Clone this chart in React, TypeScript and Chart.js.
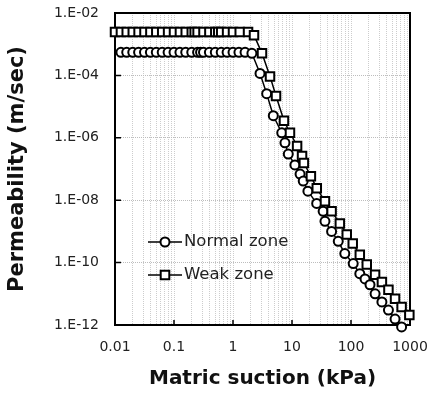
import React, { useEffect, useRef } from "react";
import { Chart, registerables } from "chart.js";

Chart.register(...registerables);

// ---- data ----
const normalX = [
  0.0126, 0.0158, 0.02, 0.0251, 0.0316, 0.0398, 0.0501, 0.0631, 0.0794, 0.1,
  0.126, 0.158, 0.2, 0.251, 0.282, 0.316, 0.398, 0.501, 0.631, 0.794,
  1.0, 1.26, 1.6,
  2.09, 2.87, 3.72, 4.82, 6.7, 7.6, 8.65, 11.2, 13.7, 15.5,
  18.6, 26.2, 33.7, 36.2, 46.9, 60.8, 78.5, 109, 141, 173,
  210, 256, 334, 431, 558, 721,
];
const normalY = [
  5.5e-4, 5.5e-4, 5.5e-4, 5.5e-4, 5.5e-4, 5.5e-4, 5.5e-4, 5.5e-4, 5.5e-4, 5.5e-4,
  5.5e-4, 5.5e-4, 5.5e-4, 5.5e-4, 5.5e-4, 5.5e-4, 5.5e-4, 5.5e-4, 5.5e-4, 5.5e-4,
  5.5e-4, 5.5e-4, 5.5e-4,
  5.1e-4, 1.16e-4, 2.6e-5, 5.1e-6, 1.45e-6, 6.9e-7, 3.0e-7, 1.35e-7, 6.9e-8, 4.1e-8,
  1.95e-8, 7.9e-9, 4.4e-9, 2.1e-9, 1e-9, 4.8e-10, 1.95e-10, 9.3e-11, 4.4e-11, 3.0e-11,
  1.95e-11, 1e-11, 5.5e-12, 3.0e-12, 1.55e-12, 8.7e-13,
];

const weakX = [
  0.01, 0.0126, 0.0158, 0.02, 0.0251, 0.0316, 0.0398, 0.0501, 0.0631, 0.0794,
  0.1, 0.126, 0.158, 0.2, 0.224, 0.251, 0.316, 0.398, 0.501, 0.562,
  0.631, 0.794, 1.0, 1.3, 1.8,
  2.27, 3.1, 4.24, 5.36, 7.31, 9.24, 12.2, 14.8, 15.9, 20.9,
  26.3, 36.2, 46.9, 64.7, 84.7, 107, 141, 185, 256, 334,
  431, 558, 721, 975,
];
const weakY = [
  2.45e-3, 2.45e-3, 2.45e-3, 2.45e-3, 2.45e-3, 2.45e-3, 2.45e-3, 2.45e-3, 2.45e-3, 2.45e-3,
  2.45e-3, 2.45e-3, 2.45e-3, 2.45e-3, 2.45e-3, 2.45e-3, 2.45e-3, 2.45e-3, 2.45e-3, 2.45e-3,
  2.45e-3, 2.45e-3, 2.45e-3, 2.45e-3, 2.45e-3,
  1.95e-3, 5.1e-4, 9.3e-5, 2.2e-5, 3.5e-6, 1.45e-6, 5.5e-7, 2.6e-7, 1.55e-7, 5.9e-8,
  2.4e-8, 9.3e-9, 4.4e-9, 1.8e-9, 8e-10, 4.1e-10, 1.8e-10, 8.7e-11, 4.1e-11, 2.4e-11,
  1.35e-11, 6.9e-12, 3.8e-12, 2.1e-12,
];

const seriesNames = ["Normal zone", "Weak zone"];

const xLabelValues = [0.01, 0.1, 1, 10, 100, 1000];
const xLabels = ["0.01", "0.1", "1", "10", "100", "1000"];
const xGridValues = [
  0.01, 0.02, 0.03, 0.04, 0.05, 0.06, 0.07, 0.08, 0.09,
  0.1, 0.2, 0.3, 0.4, 0.5, 0.6, 0.7, 0.8, 0.9,
  1, 2, 3, 4, 5, 6, 7, 8, 9,
  10, 20, 30, 40, 50, 60, 70, 80, 90,
  100, 200, 300, 400, 500, 600, 700, 800, 900,
  1000,
];
const yTickValues = [1e-12, 1e-10, 1e-8, 1e-6, 1e-4, 1e-2];
const yLabels = ["1.E-12", "1.E-10", "1.E-08", "1.E-06", "1.E-04", "1.E-02"];

const xTitle = "Matric suction (kPa)";
const yTitle = "Permeability (m/sec)";

const zip = (xs: number[], ys: number[]) => xs.map((x, i) => ({ x, y: ys[i] }));

const framePlugin = {
  id: "frame",
  beforeDatasetsDraw(chart: any) {
    const { ctx, chartArea: a, scales } = chart;
    ctx.save();
    ctx.strokeStyle = "#000";
    ctx.lineWidth = 2;
    ctx.strokeRect(a.left, a.top, a.right - a.left, a.bottom - a.top);
    ctx.lineWidth = 1.5;
    ctx.beginPath();
    for (const v of xLabelValues.slice(1, -1)) {
      const px = scales.x.getPixelForValue(v);
      ctx.moveTo(px, a.bottom);
      ctx.lineTo(px, a.bottom - 5);
    }
    for (const v of yTickValues.slice(1, -1)) {
      const py = scales.y.getPixelForValue(v);
      ctx.moveTo(a.left, py);
      ctx.lineTo(a.left + 6, py);
    }
    ctx.stroke();
    ctx.restore();
  },
};

const legendPlugin = {
  id: "inlineLegend",
  afterDraw(chart: any) {
    const { ctx, chartArea: a } = chart;
    const rows = [
      { name: seriesNames[0], style: "circle", y: a.top + 229 },
      { name: seriesNames[1], style: "rect", y: a.top + 262 },
    ];
    ctx.save();
    for (const r of rows) {
      const x0 = a.left + 33;
      const x1 = a.left + 67;
      const cx = (x0 + x1) / 2;
      ctx.strokeStyle = "#000";
      ctx.lineWidth = 1.5;
      ctx.beginPath();
      ctx.moveTo(x0, r.y);
      ctx.lineTo(x1, r.y);
      ctx.stroke();
      ctx.fillStyle = "#fff";
      ctx.lineWidth = 2;
      ctx.beginPath();
      if (r.style === "circle") {
        ctx.arc(cx, r.y, 4.5, 0, Math.PI * 2);
      } else {
        ctx.rect(cx - 4.3, r.y - 4.3, 8.6, 8.6);
      }
      ctx.fill();
      ctx.stroke();
      ctx.fillStyle = "#222";
      ctx.font = "16.5px 'DejaVu Sans'";
      ctx.textAlign = "left";
      ctx.textBaseline = "middle";
      ctx.fillText(r.name, x1 + 2, r.y);
    }
    ctx.restore();
  },
};

export default function App() {
  const ref = useRef<HTMLCanvasElement | null>(null);
  useEffect(() => {
    if (!ref.current) return;
    const chart = new Chart(ref.current, {
      type: "line",
      data: {
        datasets: [
          {
            label: seriesNames[0],
            data: zip(normalX, normalY),
            borderColor: "#000",
            borderWidth: 1.5,
            backgroundColor: "#fff",
            pointStyle: "circle",
            pointRadius: 4.5,
            pointBorderWidth: 2,
            pointBackgroundColor: "#fff",
            pointBorderColor: "#000",
            clip: false as any,
            order: 1,
          },
          {
            label: seriesNames[1],
            data: zip(weakX, weakY),
            borderColor: "#000",
            borderWidth: 1.5,
            backgroundColor: "#fff",
            pointStyle: "rect",
            pointRadius: 6,
            pointBorderWidth: 2,
            pointBackgroundColor: "#fff",
            pointBorderColor: "#000",
            clip: false as any,
            order: 0,
          },
        ],
      },
      options: {
        animation: false,
        responsive: false,
        layout: { padding: { left: 0, right: 20, top: 13, bottom: 0 } },
        plugins: { legend: { display: false }, tooltip: { enabled: false } },
        scales: {
          x: {
            type: "logarithmic",
            min: 0.01,
            max: 1000,
            afterBuildTicks: (s: any) => {
              s.ticks = xGridValues.map((v) => ({ value: v }));
            },
            afterFit: (s: any) => {
              s.height = 71;
              s.paddingLeft = 0;
              s.paddingRight = 0;
            },
            ticks: {
              autoSkip: false,
              maxRotation: 0,
              padding: 14,
              color: "#222",
              font: { family: "'DejaVu Sans'", size: 14 },
              callback: (v: any) => {
                const i = xLabelValues.findIndex((t) => Math.abs(t - v) / t < 1e-6);
                return i >= 0 ? xLabels[i] : "";
              },
            },
            grid: { color: "#cdcdcd", lineWidth: 1, drawTicks: false },
            border: { display: false, dash: [1, 1] },
            title: {
              display: true,
              text: xTitle,
              color: "#111",
              font: { family: "'DejaVu Sans'", size: 20, weight: "bold" },
              padding: { top: 0, bottom: 5 },
            },
          },
          y: {
            type: "logarithmic",
            min: 1e-12,
            max: 1e-2,
            afterBuildTicks: (s: any) => {
              s.ticks = yTickValues.map((v) => ({ value: v }));
            },
            afterFit: (s: any) => {
              s.width = 115;
              s.paddingTop = 0;
              s.paddingBottom = 0;
            },
            ticks: {
              autoSkip: false,
              padding: 16,
              color: "#222",
              font: { family: "'DejaVu Sans'", size: 14 },
              callback: (v: any) => {
                const i = yTickValues.findIndex((t) => Math.abs(t - v) / t < 1e-6);
                return i >= 0 ? yLabels[i] : "";
              },
            },
            grid: { color: "#bdbdbd", lineWidth: 1, drawTicks: false },
            border: { display: false, dash: [1, 1] },
            title: {
              display: true,
              text: yTitle,
              color: "#111",
              font: { family: "'DejaVu Sans'", size: 21, weight: "bold" },
              padding: { top: 5, bottom: 0 },
            },
          },
        },
      },
      plugins: [framePlugin, legendPlugin],
    } as any);
    return () => chart.destroy();
  }, []);
  return (
    <div style={{ position: "absolute", left: 0, top: 0, width: 430, height: 396, background: "#fff" }}>
      <canvas ref={ref} width={430} height={396} style={{ width: 430, height: 396 }} />
    </div>
  );
}
